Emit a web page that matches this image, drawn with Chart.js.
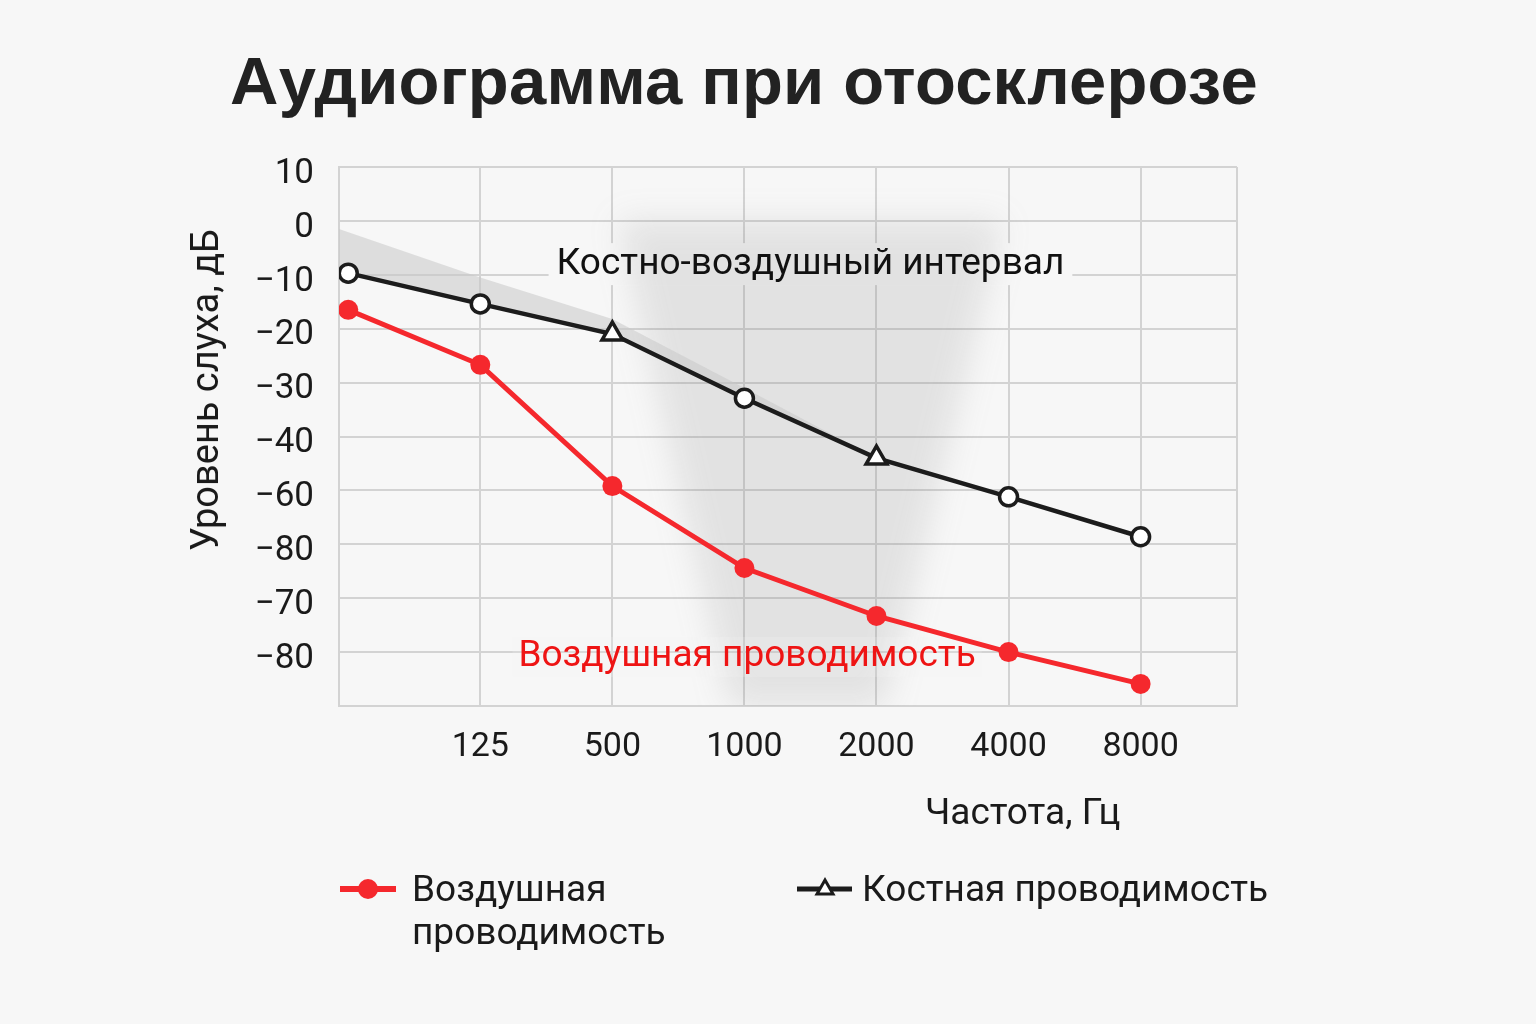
<!DOCTYPE html>
<html lang="ru">
<head>
<meta charset="utf-8">
<title>Аудиограмма при отосклерозе</title>
<script src="https://cdn.jsdelivr.net/npm/chart.js@4.4.1/dist/chart.umd.min.js"></script>
<style>
  html, body { margin: 0; padding: 0; background: #f7f7f7; }
  #wrap { position: relative; width: 1536px; height: 1024px; overflow: hidden; font-family: Roboto, "Noto Sans", sans-serif; color: #1a1a1a; }
  #chart { position: absolute; left: 0; top: 0; }
  .title { position: absolute; left: 0; width: 1488px; top: 42px; text-align: center; font: bold 67px "Liberation Sans", Arial, sans-serif; color: #222; white-space: nowrap; letter-spacing: 0.2px; }
  .ytitle { position: absolute; left: 205px; top: 390px; transform: translate(-50%, -50%) rotate(-90deg); font-size: 38px; white-space: nowrap; }
  .xtitle { position: absolute; left: 925px; top: 790px; font-size: 37px; white-space: nowrap; }
  .legend-item { position: absolute; font-size: 37px; line-height: 43px; }
  .legend-item svg { position: absolute; left: 0; top: 0; }
</style>
</head>
<body>
<div id="wrap">
  <canvas id="chart" width="1536" height="1024"></canvas>
  <div class="title">Аудиограмма при отосклерозе</div>
  <div class="ytitle">Уровень слуха, дБ</div>
  <div class="xtitle">Частота, Гц</div>
  <div class="legend-item" style="left:340px; top:867px;">
    <svg width="60" height="44"><line x1="0" y1="22" x2="56" y2="22" stroke="#f5282d" stroke-width="6"/><circle cx="28" cy="22" r="10" fill="#f5282d"/></svg>
    <div style="margin-left:72px">Воздушная<br>проводимость</div>
  </div>
  <div class="legend-item" style="left:797px; top:867px;">
    <svg width="60" height="44"><line x1="0" y1="22" x2="55" y2="22" stroke="#1c1c1c" stroke-width="5"/><polygon points="28,13 36,27 20,27" fill="#fff" stroke="#1c1c1c" stroke-width="3"/></svg>
    <div style="margin-left:65px">Костная проводимость</div>
  </div>
</div>
<script>
// частоты (первая точка без подписи)
const freqLabels = ['', '125', '500', '1000', '2000', '4000', '8000'];
// уровни слуха, дБ
const airValues  = [-16.5, -26.7, -49.2, -64.4, -73.3, -80.0, -85.9];
const boneValues = [-9.7, -15.4, -21.0, -32.9, -44.0, -51.2, -58.6];
const boneMarkers = ['circle', 'circle', 'triangle', 'circle', 'triangle', 'circle', 'circle'];

// подписи шкалы Y как на исходнике
const yTickValues = [10, 0, -10, -20, -30, -40, -50, -60, -70, -80];
const yTickLabels = ['10', '0', '−10', '−20', '−30', '−40', '−60', '−80', '−70', '−80'];

// верхняя граница серой полосы над костной линией
const gapEdgeX = [-0.07, 1, 2, 3, 4];
const gapEdgeY = [-1.5, -10.5, -18.2, -31.0, -44.0];

// размытая зона костно-воздушного интервала: [x, дБ]
const intervalZone = [[2.05, 0], [4.95, 0], [4.05, -90], [2.9, -90]];

const X_MIN = -0.07, X_MAX = 6.73;
const BG = '#f7f7f7';
const RED = '#f5282d';
const DARK = '#1c1c1c';

const toPoints = vals => vals.map((v, i) => ({ x: i, y: v }));

const shadingPlugin = {
  id: 'shading',
  beforeDatasetsDraw(chart) {
    const { ctx, chartArea, scales: { x, y } } = chart;
    ctx.save();
    ctx.beginPath();
    ctx.rect(chartArea.left, chartArea.top, chartArea.right - chartArea.left, chartArea.bottom - chartArea.top);
    ctx.clip();

    // фон под подписью интервала
    ctx.font = '37px Roboto';
    const t1 = 'Костно-воздушный интервал';
    const w1 = ctx.measureText(t1).width;
    const cx1 = x.getPixelForValue(3.5), cy1 = y.getPixelForValue(-8.2);
    ctx.fillStyle = BG;
    ctx.fillRect(cx1 - w1 / 2 - 8, cy1 - 22, w1 + 16, 42);

    // размытая вертикальная зона
    ctx.save();
    ctx.filter = 'blur(16px)';
    ctx.fillStyle = 'rgba(120,120,120,0.16)';
    ctx.beginPath();
    intervalZone.forEach(([vx, vy], i) => {
      const px = x.getPixelForValue(vx), py = y.getPixelForValue(vy);
      i ? ctx.lineTo(px, py) : ctx.moveTo(px, py);
    });
    ctx.closePath();
    ctx.fill();
    ctx.restore();

    // клин над костной линией
    ctx.fillStyle = 'rgba(200,200,200,0.55)';
    ctx.beginPath();
    gapEdgeX.forEach((vx, i) => {
      const px = x.getPixelForValue(vx), py = y.getPixelForValue(gapEdgeY[i]);
      i ? ctx.lineTo(px, py) : ctx.moveTo(px, py);
    });
    for (let i = 4; i >= 0; i--) {
      ctx.lineTo(x.getPixelForValue(i), y.getPixelForValue(boneValues[i]));
    }
    ctx.lineTo(x.getPixelForValue(X_MIN), y.getPixelForValue(boneValues[0] + (boneValues[0] - boneValues[1]) * 0.07));
    ctx.closePath();
    ctx.fill();

    // подписи
    ctx.textAlign = 'center';
    ctx.textBaseline = 'middle';
    ctx.fillStyle = '#111';
    ctx.fillText(t1, cx1, cy1);

    const t2 = 'Воздушная проводимость';
    const w2 = ctx.measureText(t2).width;
    const cx2 = x.getPixelForValue(3.02), cy2 = y.getPixelForValue(-80.9);
    ctx.fillStyle = 'rgba(247,247,247,0.2)';
    ctx.fillRect(cx2 - w2 / 2 - 6, cy2 - 20, w2 + 12, 40);
    ctx.fillStyle = '#ee1414';
    ctx.fillText(t2, cx2, cy2);
    ctx.restore();
  }
};

new Chart(document.getElementById('chart'), {
  type: 'line',
  data: {
    datasets: [
      {
        label: 'Воздушная проводимость',
        data: toPoints(airValues),
        borderColor: RED,
        backgroundColor: RED,
        borderWidth: 5,
        pointRadius: 10,
        pointBorderWidth: 0,
        pointBackgroundColor: RED,
        tension: 0
      },
      {
        label: 'Костная проводимость',
        data: toPoints(boneValues),
        borderColor: DARK,
        backgroundColor: '#fff',
        borderWidth: 4.5,
        pointStyle: boneMarkers,
        pointRadius: boneMarkers.map(m => m === 'triangle' ? 12 : 9),
        pointBorderWidth: 3.5,
        pointBorderColor: DARK,
        pointBackgroundColor: '#fff',
        tension: 0
      }
    ]
  },
  options: {
    responsive: false,
    animation: false,
    devicePixelRatio: 1,
    layout: { padding: { left: 0, right: 299, top: 167, bottom: 218 } },
    plugins: {
      legend: { display: false },
      tooltip: { enabled: false },
      title: { display: false }
    },
    scales: {
      x: {
        type: 'linear',
        min: X_MIN,
        max: X_MAX,
        afterBuildTicks: s => { s.ticks = [X_MIN, 1, 2, 3, 4, 5, 6, X_MAX].map(v => ({ value: v })); },
        afterFit: s => { s.height = 100; },
        grid: { color: '#d3d3d3', lineWidth: 2, drawTicks: false },
        border: { color: '#d3d3d3', width: 2 },
        ticks: {
          padding: 21,
          color: '#1a1a1a',
          font: { family: 'Roboto', size: 34 },
          maxRotation: 0,
          autoSkip: false,
          callback: v => Number.isInteger(v) ? freqLabels[v] : ''
        }
      },
      y: {
        min: -90,
        max: 10,
        afterBuildTicks: s => { s.ticks = [-90].concat(yTickValues.slice().reverse()).map(v => ({ value: v })); },
        afterFit: s => { s.width = 339; },
        grid: { color: '#d3d3d3', lineWidth: 2, drawTicks: false },
        border: { color: '#d3d3d3', width: 2 },
        ticks: {
          padding: 25,
          labelOffset: 7,
          color: '#1a1a1a',
          font: { family: 'Roboto', size: 35 },
          autoSkip: false,
          callback: v => {
            const i = yTickValues.indexOf(v);
            return i >= 0 ? yTickLabels[i] : '';
          }
        }
      }
    }
  },
  plugins: [shadingPlugin, {
    id: 'rightBorder',
    afterDraw(chart) {
      const { ctx, chartArea } = chart;
      ctx.save();
      ctx.strokeStyle = '#d3d3d3';
      ctx.lineWidth = 2;
      ctx.beginPath();
      ctx.moveTo(chartArea.right, chartArea.top);
      ctx.lineTo(chartArea.right, chartArea.bottom);
      ctx.stroke();
      ctx.restore();
    }
  }]
});
</script>
</body>
</html>
